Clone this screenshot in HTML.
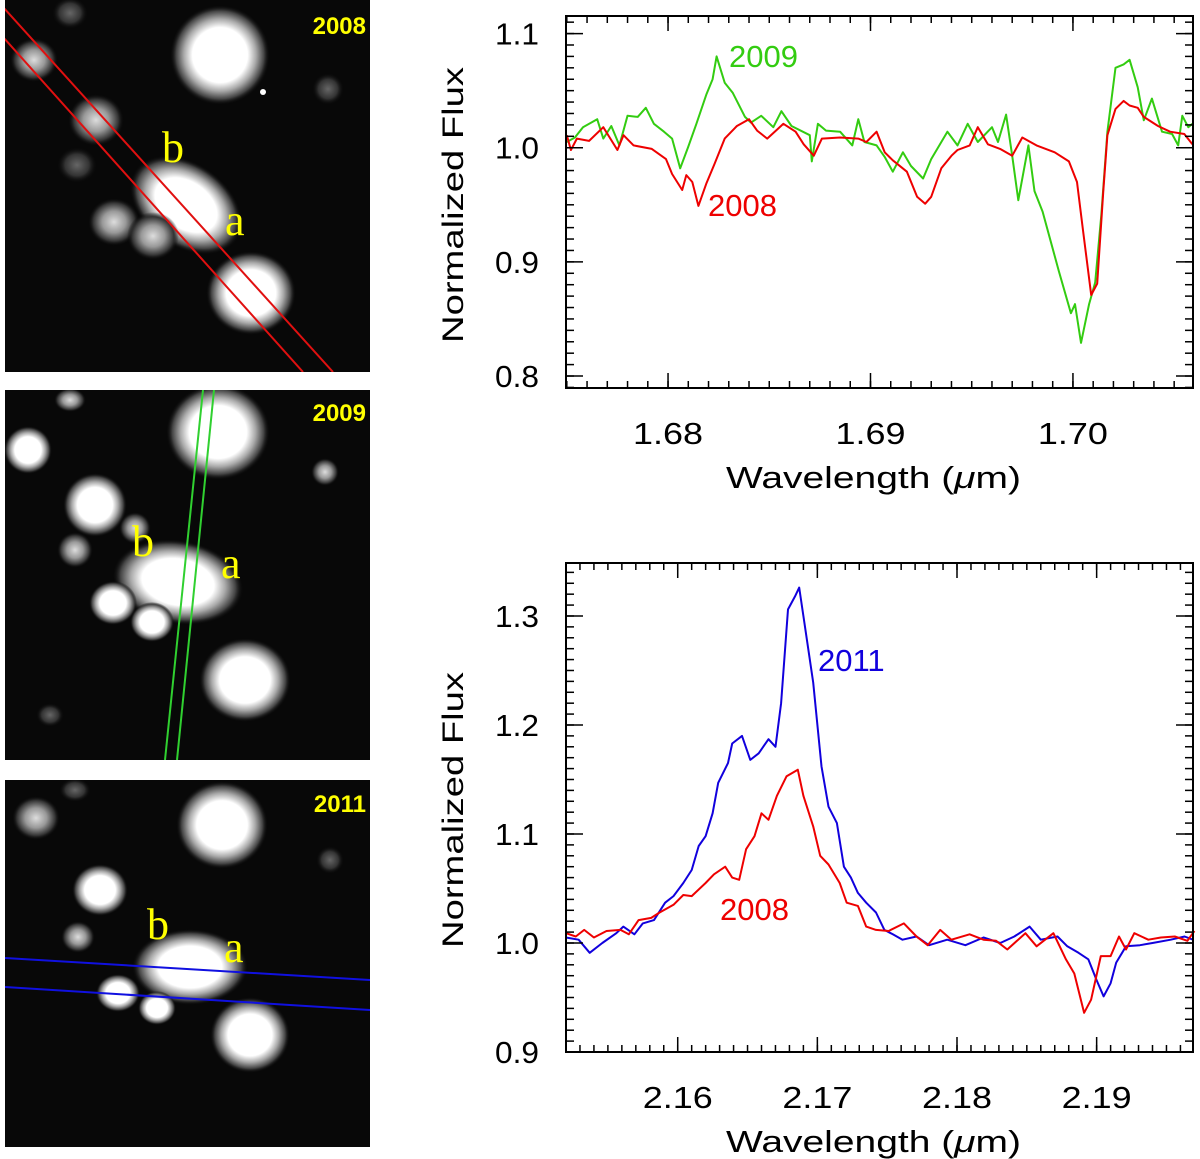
<!DOCTYPE html>
<html><head><meta charset="utf-8"><style>
html,body{margin:0;padding:0;background:#fff;}
svg{display:block;font-family:"Liberation Sans",sans-serif;}
</style></head><body>
<svg id="fig" width="1200" height="1159" viewBox="0 0 1200 1159">
<defs>
<radialGradient id="star"><stop offset="0" stop-color="#fff"/><stop offset="0.55" stop-color="#fff"/><stop offset="0.72" stop-color="#aaa"/><stop offset="0.88" stop-color="#444"/><stop offset="1" stop-color="#080808" stop-opacity="0"/></radialGradient>
<radialGradient id="faint"><stop offset="0" stop-color="#ddd"/><stop offset="0.45" stop-color="#999"/><stop offset="0.8" stop-color="#333"/><stop offset="1" stop-color="#080808" stop-opacity="0"/></radialGradient>
<radialGradient id="dim"><stop offset="0" stop-color="#666"/><stop offset="0.6" stop-color="#333"/><stop offset="1" stop-color="#080808" stop-opacity="0"/></radialGradient>
<clipPath id="c1"><rect x="5" y="0" width="365" height="372"/></clipPath>
<clipPath id="c2"><rect x="5" y="390" width="365" height="370"/></clipPath>
<clipPath id="c3"><rect x="5" y="780" width="365" height="367"/></clipPath>
</defs>

<!-- Image panel 2008 -->
<g clip-path="url(#c1)">
<rect x="5" y="0" width="365" height="372" fill="#080808"/>
<ellipse cx="220" cy="55" rx="50" ry="50" fill="url(#star)"/>
<ellipse cx="186" cy="205" rx="62" ry="42" fill="url(#star)" transform="rotate(35 186 205)"/>
<ellipse cx="251" cy="293" rx="45" ry="42" fill="url(#star)"/>
<ellipse cx="96" cy="120" rx="28" ry="26" fill="url(#faint)"/>
<ellipse cx="34" cy="60" rx="24" ry="22" fill="url(#faint)"/>
<ellipse cx="114" cy="222" rx="26" ry="24" fill="url(#faint)"/>
<ellipse cx="153" cy="236" rx="26" ry="24" fill="url(#faint)"/>
<ellipse cx="77" cy="165" rx="20" ry="18" fill="url(#dim)"/>
<ellipse cx="70" cy="13" rx="18" ry="16" fill="url(#dim)"/>
<ellipse cx="328" cy="89" rx="16" ry="16" fill="url(#dim)"/>
<circle cx="263" cy="92" r="3" fill="#fff"/>
<line x1="3" y1="7" x2="333" y2="372" stroke="#e01010" stroke-width="2"/>
<line x1="3" y1="37" x2="303" y2="372" stroke="#e01010" stroke-width="2"/>
<text x="366" y="34" text-anchor="end" font-size="24" font-weight="bold" fill="#ffff00">2008</text>
<text x="162" y="162" font-size="44" fill="#ffff00" font-family="Liberation Serif,serif">b</text>
<text x="225" y="235" font-size="44" fill="#ffff00" font-family="Liberation Serif,serif">a</text>
</g>

<!-- Image panel 2009 -->
<g clip-path="url(#c2)">
<rect x="5" y="390" width="365" height="370" fill="#080808"/>
<ellipse cx="218" cy="432" rx="52" ry="48" fill="url(#star)"/>
<ellipse cx="178" cy="582" rx="66" ry="42" fill="url(#star)" transform="rotate(10 178 582)"/>
<ellipse cx="245" cy="680" rx="46" ry="42" fill="url(#star)"/>
<ellipse cx="95" cy="505" rx="32" ry="32" fill="url(#star)"/>
<ellipse cx="28" cy="450" rx="24" ry="24" fill="url(#star)"/>
<ellipse cx="75" cy="550" rx="18" ry="18" fill="url(#faint)"/>
<ellipse cx="113" cy="603" rx="24" ry="22" fill="url(#star)"/>
<ellipse cx="152" cy="622" rx="22" ry="20" fill="url(#star)"/>
<ellipse cx="325" cy="472" rx="14" ry="14" fill="url(#faint)"/>
<ellipse cx="135" cy="528" rx="16" ry="16" fill="url(#faint)"/>
<ellipse cx="70" cy="400" rx="16" ry="12" fill="url(#faint)"/>
<ellipse cx="50" cy="715" rx="14" ry="12" fill="url(#dim)"/>
<line x1="203" y1="390" x2="165" y2="760" stroke="#30d030" stroke-width="2"/>
<line x1="214" y1="390" x2="177" y2="760" stroke="#30d030" stroke-width="2"/>
<text x="366" y="421" text-anchor="end" font-size="24" font-weight="bold" fill="#ffff00">2009</text>
<text x="132" y="556" font-size="44" fill="#ffff00" font-family="Liberation Serif,serif">b</text>
<text x="221" y="578" font-size="44" fill="#ffff00" font-family="Liberation Serif,serif">a</text>
</g>

<!-- Image panel 2011 -->
<g clip-path="url(#c3)">
<rect x="5" y="780" width="365" height="367" fill="#080808"/>
<ellipse cx="222" cy="825" rx="46" ry="44" fill="url(#star)"/>
<ellipse cx="190" cy="967" rx="58" ry="38" fill="url(#star)"/>
<ellipse cx="250" cy="1035" rx="40" ry="38" fill="url(#star)"/>
<ellipse cx="100" cy="890" rx="28" ry="26" fill="url(#star)"/>
<ellipse cx="36" cy="818" rx="24" ry="22" fill="url(#faint)"/>
<ellipse cx="78" cy="937" rx="17" ry="16" fill="url(#faint)"/>
<ellipse cx="118" cy="993" rx="22" ry="19" fill="url(#star)"/>
<ellipse cx="157" cy="1008" rx="19" ry="17" fill="url(#star)"/>
<ellipse cx="330" cy="860" rx="14" ry="14" fill="url(#dim)"/>
<ellipse cx="75" cy="790" rx="16" ry="12" fill="url(#dim)"/>
<line x1="5" y1="958" x2="370" y2="980" stroke="#1010e0" stroke-width="2"/>
<line x1="5" y1="987" x2="370" y2="1010" stroke="#1010e0" stroke-width="2"/>
<text x="366" y="812" text-anchor="end" font-size="24" font-weight="bold" fill="#ffff00">2011</text>
<text x="147" y="939" font-size="44" fill="#ffff00" font-family="Liberation Serif,serif">b</text>
<text x="224" y="962" font-size="44" fill="#ffff00" font-family="Liberation Serif,serif">a</text>
</g>

<g id="charts"></g>
</svg>
<script>
// ---- Top chart data (H band) ----
const topRedWl = [1.6750,1.6752,1.6755,1.6761,1.6768,1.6775,1.6778,1.6783,1.6792,1.6799,1.6802,1.6807,1.6809,1.6812,1.6815,1.6819,1.6823,1.6828,1.6834,1.6840,1.6844,1.6849,1.6857,1.6863,1.6867,1.6872,1.6876,1.6885,1.6894,1.6898,1.6903,1.6907,1.6911,1.6918,1.6923,1.6927,1.6930,1.6935,1.6940,1.6943,1.6949,1.6953,1.6958,1.6964,1.6970,1.6975,1.6982,1.6991,1.6998,1.7002,1.7005,1.7009,1.7012,1.7015,1.7017,1.7021,1.7025,1.7028,1.7032,1.7035,1.7042,1.7048,1.7055,1.7059];
const topRedFlux = [1.011,0.998,1.008,1.006,1.018,0.998,1.011,1.002,0.999,0.990,0.977,0.963,0.976,0.970,0.949,0.969,0.986,1.008,1.019,1.025,1.015,1.008,1.021,1.014,1.003,0.993,1.008,1.009,1.008,1.005,1.014,0.996,0.989,0.979,0.957,0.951,0.957,0.982,0.993,0.998,1.002,1.018,1.003,0.999,0.993,1.009,1.002,0.996,0.988,0.970,0.927,0.871,0.881,0.962,1.011,1.034,1.041,1.037,1.035,1.027,1.019,1.014,1.012,1.003];
const topGreenWl = [1.6750,1.6754,1.6758,1.6765,1.6768,1.6772,1.6776,1.6780,1.6785,1.6789,1.6793,1.6798,1.6802,1.6806,1.6810,1.6814,1.6819,1.6822,1.6824,1.6828,1.6832,1.6838,1.6841,1.6846,1.6852,1.6856,1.6861,1.6870,1.6871,1.6874,1.6878,1.6885,1.6891,1.6894,1.6897,1.6903,1.6907,1.6911,1.6916,1.6920,1.6926,1.6930,1.6938,1.6943,1.6948,1.6953,1.6960,1.6963,1.6967,1.6970,1.6973,1.6978,1.6981,1.6985,1.6989,1.6993,1.6999,1.7001,1.7004,1.7008,1.7011,1.7014,1.7017,1.7021,1.7025,1.7028,1.7032,1.7035,1.7039,1.7044,1.7049,1.7052,1.7054,1.7057,1.7059];
const topGreenFlux = [1.005,1.009,1.018,1.025,1.008,1.019,1.002,1.028,1.027,1.035,1.021,1.014,1.008,0.982,1.001,1.021,1.047,1.060,1.080,1.057,1.048,1.027,1.022,1.028,1.018,1.032,1.019,1.011,0.988,1.021,1.015,1.014,1.002,1.025,1.005,1.002,0.992,0.979,0.996,0.984,0.973,0.990,1.014,1.002,1.021,1.005,1.018,1.005,1.029,0.993,0.954,1.002,0.962,0.944,0.918,0.892,0.855,0.863,0.829,0.863,0.882,0.941,1.014,1.070,1.073,1.077,1.053,1.024,1.043,1.014,1.012,1.002,1.028,1.018,1.021];
const topXTicks = [1.68,1.69,1.70];
const topXTickLabels = ["1.68","1.69","1.70"];
const topYTicks = [0.8,0.9,1.0,1.1];
const topYTickLabels = ["0.8","0.9","1.0","1.1"];

// ---- Bottom chart data (K band) ----
const botBlueWl = [2.1520,2.1529,2.1537,2.1546,2.1556,2.1561,2.1569,2.1575,2.1583,2.1591,2.1597,2.1604,2.1610,2.1615,2.1620,2.1625,2.1629,2.1636,2.1639,2.1646,2.1652,2.1658,2.1665,2.1670,2.1674,2.1679,2.1684,2.1687,2.1690,2.1697,2.1703,2.1708,2.1714,2.1719,2.1724,2.1729,2.1735,2.1742,2.1748,2.1754,2.1761,2.1771,2.1780,2.1793,2.1806,2.1819,2.1831,2.1841,2.1852,2.1860,2.1872,2.1879,2.1887,2.1894,2.1900,2.1905,2.1910,2.1914,2.1921,2.1931,2.1940,2.1953,2.1963,2.1969];
const botBlueFlux = [1.005,1.003,0.991,1.000,1.009,1.015,1.008,1.018,1.021,1.037,1.043,1.055,1.067,1.089,1.098,1.119,1.147,1.165,1.183,1.190,1.168,1.174,1.187,1.180,1.220,1.306,1.318,1.326,1.300,1.239,1.162,1.125,1.110,1.070,1.060,1.046,1.037,1.028,1.012,1.008,1.003,1.006,0.998,1.003,0.998,1.005,1.000,1.006,1.015,1.003,1.006,0.997,0.991,0.985,0.966,0.951,0.963,0.982,0.997,0.998,1.000,1.003,1.006,1.003];
const botRedWl = [2.1520,2.1527,2.1533,2.1540,2.1549,2.1559,2.1565,2.1572,2.1581,2.1587,2.1597,2.1604,2.1610,2.1620,2.1626,2.1634,2.1639,2.1644,2.1649,2.1655,2.1660,2.1665,2.1671,2.1678,2.1686,2.1690,2.1697,2.1702,2.1708,2.1716,2.1721,2.1729,2.1735,2.1742,2.1751,2.1762,2.1771,2.1779,2.1788,2.1796,2.1809,2.1819,2.1828,2.1836,2.1849,2.1857,2.1869,2.1878,2.1884,2.1891,2.1896,2.1903,2.1910,2.1916,2.1921,2.1927,2.1937,2.1946,2.1956,2.1965,2.1970];
const botRedFlux = [1.009,1.006,1.012,1.005,1.011,1.012,1.008,1.021,1.023,1.028,1.035,1.044,1.043,1.055,1.063,1.070,1.060,1.058,1.086,1.098,1.119,1.113,1.135,1.153,1.159,1.135,1.107,1.080,1.072,1.055,1.037,1.034,1.015,1.012,1.011,1.018,1.006,0.998,1.012,1.003,1.008,1.003,1.002,0.994,1.009,0.997,1.009,0.985,0.972,0.936,0.948,0.988,0.988,1.006,0.994,1.009,1.003,1.005,1.006,1.002,1.011];
const botXTicks = [2.16,2.17,2.18,2.19];
const botXTickLabels = ["2.16","2.17","2.18","2.19"];
const botYTicks = [0.9,1.0,1.1,1.2,1.3];
const botYTickLabels = ["0.9","1.0","1.1","1.2","1.3"];

const NS = "http://www.w3.org/2000/svg";
const root = document.getElementById('charts');
function mk(tag, attrs, parent){
  const e = document.createElementNS(NS, tag);
  for (const k in attrs) e.setAttribute(k, attrs[k]);
  (parent||root).appendChild(e);
  return e;
}

function drawChart(cfg){
  const g = mk('g', {});
  
  
  const L=cfg.L,R=cfg.R,T=cfg.T,B=cfg.B;
  const sx = v => L + (v-cfg.xmin)/(cfg.xmax-cfg.xmin)*(R-L);
  const sy = v => B - (v-cfg.ymin)/(cfg.ymax-cfg.ymin)*(B-T);
  cfg.series.forEach(s=>{
    let d='';
    s.x.forEach((w,i)=>{ d += (i?'L':'M') + sx(w).toFixed(1) + ',' + sy(s.y[i]).toFixed(1); });
    const p = mk('path', {d:d, fill:'none', stroke:s.color, 'stroke-width':2, 'stroke-linejoin':'round'}, g);
    
    
  });
  const fr = mk('rect', {x:L, y:T, width:R-L, height:B-T, fill:'none', stroke:'#000', 'stroke-width':2}, g);
  
  
  const xa = mk('g', {}, g);
  
  
  for (let v = Math.ceil(cfg.xmin/cfg.xminor)*cfg.xminor; v <= cfg.xmax+1e-9; v += cfg.xminor){
    const x = sx(v);
    mk('line', {x1:x, x2:x, y1:B, y2:B-7, stroke:'#000','stroke-width':1.5}, xa);
    mk('line', {x1:x, x2:x, y1:T, y2:T+7, stroke:'#000','stroke-width':1.5}, xa);
  }
  cfg.xt.forEach((v,i)=>{
    const x = sx(v);
    mk('line', {x1:x, x2:x, y1:B, y2:B-15, stroke:'#000','stroke-width':1.5}, xa);
    mk('line', {x1:x, x2:x, y1:T, y2:T+15, stroke:'#000','stroke-width':1.5}, xa);
    const t = mk('text', {x:x, y:B+56, 'text-anchor':'middle','font-size':31, fill:'#000', textLength:70, lengthAdjust:'spacingAndGlyphs'}, xa);
    t.textContent = cfg.xtl[i];
    
    
  });
  const ya = mk('g', {}, g);
  
  
  for (let v = Math.ceil(cfg.ymin/cfg.yminor)*cfg.yminor; v <= cfg.ymax+1e-9; v += cfg.yminor){
    const y = sy(v);
    mk('line', {x1:L, x2:L+8, y1:y, y2:y, stroke:'#000','stroke-width':1.5}, ya);
    mk('line', {x1:R, x2:R-8, y1:y, y2:y, stroke:'#000','stroke-width':1.5}, ya);
  }
  cfg.yt.forEach((v,i)=>{
    const y = sy(v);
    mk('line', {x1:L, x2:L+17, y1:y, y2:y, stroke:'#000','stroke-width':1.5}, ya);
    mk('line', {x1:R, x2:R-17, y1:y, y2:y, stroke:'#000','stroke-width':1.5}, ya);
    const t = mk('text', {x:L-27, y:y+11, 'text-anchor':'end','font-size':31, fill:'#000', textLength:44, lengthAdjust:'spacingAndGlyphs'}, ya);
    t.textContent = cfg.ytl[i];
    
    
  });
  const xt = mk('text', {x:(L+R)/2 - 6, y:B+100, 'text-anchor':'middle','font-size':31, fill:'#000', textLength:295, lengthAdjust:'spacingAndGlyphs'}, g);
  xt.innerHTML = 'Wavelength (<tspan font-style="italic">μ</tspan>m)';
  
  
  const cy = cfg.ytitleY;
  const yt = mk('text', {x:0, y:0, 'text-anchor':'middle','font-size':30, fill:'#000', textLength:276, lengthAdjust:'spacingAndGlyphs', transform:'translate('+(L-103)+','+cy+') rotate(-90)'}, g);
  yt.textContent = 'Normalized  Flux';
  
  
  cfg.labels.forEach(lb=>{
    const t = mk('text', {x:lb.x, y:lb.y, 'font-size':31, fill:lb.color}, g);
    t.textContent = lb.text;
    
    
  });
}

drawChart({name:'h-band-chart', L:566, R:1193, T:16, B:388, xmin:1.67496, xmax:1.70593, ymin:0.7895, ymax:1.1154, ytitleY:205,
  xminor:0.001, yminor:0.01, xt:topXTicks, xtl:topXTickLabels, yt:topYTicks, ytl:topYTickLabels,
  series:[{name:'series-2009-green', x:topGreenWl, y:topGreenFlux, color:'#33cc11'},
          {name:'series-2008-red', x:topRedWl, y:topRedFlux, color:'#ee0000'}],
  labels:[{name:'label-2009', text:'2009', x:729, y:67, color:'#33cc11'},
          {name:'label-2008', text:'2008', x:708, y:216, color:'#ee0000'}]});

drawChart({name:'k-band-chart', L:566, R:1193, T:563, B:1052, xmin:2.152, xmax:2.1969, ymin:0.9, ymax:1.3486, ytitleY:810,
  xminor:0.001, yminor:0.01, xt:botXTicks, xtl:botXTickLabels, yt:botYTicks, ytl:botYTickLabels,
  series:[{name:'series-2011-blue', x:botBlueWl, y:botBlueFlux, color:'#1100dd'},
          {name:'series-2008-red', x:botRedWl, y:botRedFlux, color:'#ee0000'}],
  labels:[{name:'label-2011', text:'2011', x:818, y:671, color:'#1100dd'},
          {name:'label-2008', text:'2008', x:720, y:920, color:'#ee0000'}]});
</script>
</body></html>
